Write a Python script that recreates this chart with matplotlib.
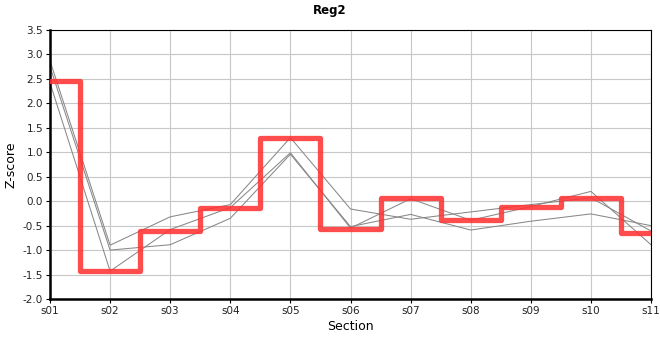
import matplotlib
matplotlib.use("Agg")
import matplotlib.pyplot as plt
import numpy as np

sections = ["s01", "s02", "s03", "s04", "s05", "s06", "s07", "s08", "s09", "s10", "s11"]
reg2 = [2.45, -1.43, -0.60, -0.14, 1.30, -0.56, 0.075, -0.39, -0.12, 0.075, -0.66]
member_a = [2.87, -0.90, -0.32, -0.07, 1.30, -0.16, -0.37, -0.22, -0.07, 0.07, -0.61]
member_b = [2.75, -1.00, -0.89, -0.35, 0.96, -0.52, -0.27, -0.59, -0.41, -0.26, -0.50]
member_c = [2.42, -1.43, -0.58, -0.13, 0.99, -0.55, 0.05, -0.39, -0.11, 0.20, -0.89]
yticks = [-2.0, -1.5, -1.0, -0.5, 0.0, 0.5, 1.0, 1.5, 2.0, 2.5, 3.0, 3.5]

fig = plt.figure(figsize=(6.6, 3.6), dpi=100)
ax = fig.add_axes([50/660, 61/360, 601/660, 269/360])
x = np.arange(len(sections))

for m in (member_a, member_b, member_c):
    ax.plot(x, m, color="#888888", lw=0.75, zorder=2)
ax.step(x, reg2, where="mid", color="#ff3333", alpha=0.88, lw=3.8,
        solid_joinstyle="round", solid_capstyle="round", zorder=3)

ax.set_xlim(0, len(sections) - 1)
ax.set_ylim(-2.0, 3.5)
ax.set_xticks(x)
ax.set_xticklabels(sections)
ax.set_yticks(yticks)
ax.set_yticklabels([f"{v:.1f}" for v in yticks])
ax.grid(True, color="#c8c8c8", lw=0.8, zorder=0)
ax.set_axisbelow(True)
ax.tick_params(axis="both", labelsize=7.5, length=3, width=0.8, colors="black", pad=2)
for lab in ax.get_xticklabels() + ax.get_yticklabels():
    lab.set_color("#222222")
for s in ("left", "bottom"):
    ax.spines[s].set_linewidth(1.8)
for s in ("top", "right"):
    ax.spines[s].set_linewidth(0.8)
ax.set_xlabel("Section", fontsize=9, labelpad=3)
ax.set_ylabel("Z-score", fontsize=9, labelpad=4)
fig.text(0.5, 0.972, "Reg2", ha="center", va="center", fontsize=8.5, fontweight="bold")

fig.savefig("out.png", dpi=100)
